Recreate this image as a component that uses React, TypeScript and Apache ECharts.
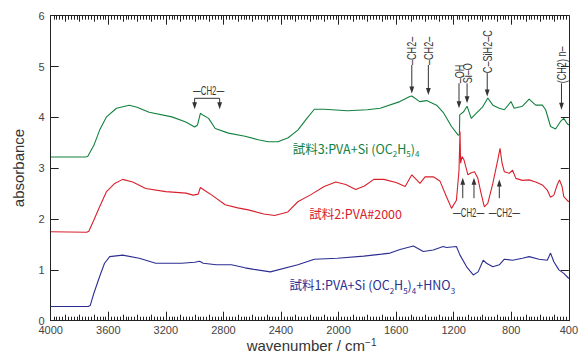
import React, { useEffect, useRef } from "react";
import * as echarts from "echarts";

// ---- axis settings ----
const WN_MIN = 400;
const WN_MAX = 4000;
const WN_STEP = 400;
const WN_MID_STEP = 100;
const WN_MINOR_STEP = 20;
const ABS_MIN = 0;
const ABS_MAX = 6;

// ---- spectra: [wavenumber (cm-1), absorbance] ----
const sample3: [number, number][] = [
  [4000, 3.22], [3760, 3.22], [3743, 3.23], [3700, 3.45], [3660, 3.75], [3612, 4.01],
  [3543, 4.18], [3454, 4.24], [3400, 4.2], [3316, 4.1], [3158, 4.01], [3061, 3.91],
  [3000, 3.81], [2980, 3.85], [2960, 4.08], [2940, 4.04], [2903, 3.98], [2857, 3.78],
  [2765, 3.69], [2650, 3.63], [2559, 3.56], [2490, 3.52], [2421, 3.52], [2350, 3.6],
  [2283, 3.75], [2220, 3.98], [2168, 4.16], [2100, 4.16], [1938, 4.13], [1800, 4.15],
  [1711, 4.18], [1574, 4.31], [1505, 4.41], [1491, 4.42], [1436, 4.31], [1388, 4.33],
  [1319, 4.24], [1273, 4.1], [1215, 3.82], [1169, 3.65], [1160, 3.66], [1158, 4.05],
  [1131, 4.11], [1107, 4.22], [1078, 3.98], [1044, 4.08], [1000, 4.2], [963, 4.38],
  [928, 4.24], [883, 4.18], [848, 4.15], [802, 4.31], [780, 4.18], [722, 4.22],
  [676, 4.36], [630, 4.24], [584, 4.24], [561, 4.15], [527, 3.82], [492, 3.77],
  [458, 3.92], [435, 3.98], [412, 3.88], [400, 3.85],
];

const sample2: [number, number][] = [
  [4000, 1.75], [3750, 1.74], [3735, 1.76], [3700, 1.98], [3660, 2.24], [3612, 2.54],
  [3555, 2.7], [3500, 2.78], [3430, 2.73], [3340, 2.6], [3200, 2.54], [3060, 2.51],
  [3010, 2.47], [2975, 2.49], [2960, 2.62], [2930, 2.56], [2880, 2.47], [2788, 2.28],
  [2700, 2.22], [2627, 2.18], [2520, 2.1], [2444, 2.07], [2352, 2.14], [2283, 2.34],
  [2192, 2.48], [2100, 2.64], [2019, 2.73], [1950, 2.68], [1881, 2.58], [1820, 2.65],
  [1755, 2.78], [1686, 2.78], [1600, 2.72], [1537, 2.64], [1491, 2.87], [1434, 2.7],
  [1399, 2.83], [1342, 2.83], [1296, 2.75], [1250, 2.44], [1215, 2.21], [1181, 2.37],
  [1163, 2.96], [1156, 3.72], [1152, 3.1], [1142, 3.23], [1128, 3.16], [1101, 2.87],
  [1078, 2.91], [1055, 2.93], [1032, 2.8], [1010, 2.51], [987, 2.24], [963, 2.31],
  [928, 2.7], [894, 3.16], [878, 3.39], [864, 3.1], [848, 2.93], [814, 2.9],
  [791, 2.96], [768, 2.8], [722, 2.76], [676, 2.77], [630, 2.73], [584, 2.67],
  [550, 2.57], [527, 2.43], [504, 2.47], [481, 2.67], [465, 2.77], [447, 2.64],
  [435, 2.44], [412, 2.37], [400, 2.34],
];

const sample1: [number, number][] = [
  [4000, 0.28], [3740, 0.28], [3725, 0.3], [3700, 0.54], [3660, 0.87], [3626, 1.13],
  [3590, 1.26], [3500, 1.29], [3385, 1.23], [3270, 1.13], [3090, 1.13], [3000, 1.15],
  [2965, 1.17], [2940, 1.13], [2850, 1.1], [2744, 1.1], [2650, 1.04], [2589, 1.01],
  [2474, 0.96], [2283, 1.1], [2168, 1.21], [2008, 1.23], [1825, 1.27], [1700, 1.31],
  [1642, 1.33], [1573, 1.4], [1480, 1.47], [1411, 1.36], [1342, 1.39], [1273, 1.46],
  [1250, 1.44], [1181, 1.46], [1156, 1.29], [1110, 1.06], [1064, 0.9], [1030, 0.96],
  [995, 1.19], [972, 1.13], [928, 1.06], [883, 1.1], [848, 1.21], [791, 1.19],
  [722, 1.23], [676, 1.26], [607, 1.21], [550, 1.19], [527, 1.33], [504, 1.16],
  [469, 1.0], [435, 0.93], [400, 0.83],
];

// ---- annotations (data coordinates) ----
const topMarks = [
  { text: "–CH2–", wn: 1491, from: 5.03, to: 4.47 },
  { text: "–CH2–", wn: 1376, from: 5.03, to: 4.44 },
  { text: "–OH", wn: 1163, from: 4.67, to: 4.18 },
  { text: "Si–O", wn: 1107, from: 4.67, to: 4.28 },
  { text: "C–SiH2–C", wn: 967, from: 4.87, to: 4.41 },
  { text: "(CH2) n–", wn: 451, from: 4.67, to: 4.15 },
];
const bracket = { text: "—CH2—", textWn: 2903, textAbs: 4.525, wn1: 3000, wn2: 2826, bar: 4.375, tip: 4.16 };
const upArrows = [
  { wn: 1137, from: 2.41, to: 2.81 },
  { wn: 1059, from: 2.41, to: 2.81 },
  { wn: 883, from: 2.41, to: 2.78 },
];
const upLabels = [
  { text: "—CH2—", wn: 1096, abs: 2.12 },
  { text: "—CH2—", wn: 848, abs: 2.12 },
];

const GREEN = "#13813f";
const RED = "#d8202c";
const BLUE = "#2c2e92";

const sampleLabels = [
  { wn: 2318, abs: 3.36, color: GREEN, parts: [["n", "試料3:PVA+Si (OC"], ["s", "2"], ["n", "H"], ["s", "5"], ["n", ")"], ["s", "4"]] },
  { wn: 2203, abs: 2.07, color: RED, parts: [["n", "試料2:PVA#2000"]] },
  { wn: 2340, abs: 0.68, color: BLUE, parts: [["n", "試料1:PVA+Si (OC"], ["s", "2"], ["n", "H"], ["s", "5"], ["n", ")"], ["s", "4"], ["n", "+HNO"], ["s", "3"]] },
];

const NUM_FONT = "'Liberation Sans Narrow', 'Liberation Sans', Arial, sans-serif";
const ANN_FONT = "'Liberation Sans Narrow', 'Liberation Sans', Arial, sans-serif";
const JP_FONT = "'Noto Sans CJK JP', 'Noto Sans', sans-serif";
const AXIS_COLOR = "#222";
const INK = "#333";

export default function App() {
  const ref = useRef<HTMLDivElement>(null);

  useEffect(() => {
    if (!ref.current) return;
    const chart = echarts.init(ref.current, null, { renderer: "svg" });

    const lineStyle = { color: AXIS_COLOR, width: 1 };
    const tickAxis = (position: string, labels: boolean) => ({
      type: "value",
      inverse: true,
      min: WN_MIN,
      max: WN_MAX,
      gridIndex: 0,
      position,
      interval: WN_STEP,
      splitLine: { show: false },
      axisLine: { show: true, onZero: false, lineStyle },
      axisTick: { show: true, inside: true, length: 9, lineStyle },
      axisLabel: labels
        ? { show: true, color: "#444", fontSize: 11, lineHeight: 8, fontFamily: NUM_FONT, margin: 5, formatter: (v: number) => String(v) }
        : { show: false },
    });

    chart.setOption({
      animation: false,
      backgroundColor: "#fff",
      grid: { left: 50.7, right: 7.7, top: 15.7, bottom: 35.3, containLabel: false },
      xAxis: [tickAxis("bottom", true), tickAxis("top", false)],
      yAxis: [
        {
          type: "value",
          position: "left",
          min: ABS_MIN,
          max: ABS_MAX,
          interval: 1,
          splitLine: { show: false },
          axisLine: { show: true, onZero: false, lineStyle },
          axisTick: { show: true, inside: true, length: 8, lineStyle },
          axisLabel: { color: "#444", fontSize: 11, lineHeight: 8, fontFamily: NUM_FONT, margin: 6 },
        },
        {
          type: "value",
          position: "right",
          min: ABS_MIN,
          max: ABS_MAX,
          interval: 1,
          splitLine: { show: false },
          axisLine: { show: true, onZero: false, lineStyle },
          axisTick: { show: true, inside: true, length: 8, lineStyle },
          axisLabel: { show: false },
        },
      ],
      series: [
        { name: "試料3", type: "line", data: sample3, symbol: "none", lineStyle: { color: GREEN, width: 1.1 }, xAxisIndex: 0, yAxisIndex: 0 },
        { name: "試料2", type: "line", data: sample2, symbol: "none", lineStyle: { color: RED, width: 1.1 }, xAxisIndex: 0, yAxisIndex: 0 },
        { name: "試料1", type: "line", data: sample1, symbol: "none", lineStyle: { color: BLUE, width: 1.1 }, xAxisIndex: 0, yAxisIndex: 0 },
      ],
    });

    const P = (wn: number, v: number) =>
      chart.convertToPixel({ xAxisIndex: 0, yAxisIndex: 0 }, [wn, v]) as number[];

    const g: any[] = [];
    const line = (x1: number, y1: number, x2: number, y2: number, z = 10, stroke = INK) =>
      g.push({ type: "line", silent: true, z, shape: { x1, y1, x2, y2 }, style: { stroke, lineWidth: 1 } });
    const head = (x: number, y: number, dir: 1 | -1) =>
      g.push({
        type: "polygon",
        silent: true,
        z: 10,
        shape: { points: [[x, y], [x - 2.4, y - dir * 7], [x + 2.4, y - dir * 7]] },
        style: { fill: INK },
      });

    // medium (100) and minor (20) ticks on the bottom and top edges, placed by the x scale
    {
      const [, yBottom] = P(WN_MIN, ABS_MIN);
      const [, yTop] = P(WN_MIN, ABS_MAX);
      for (let v = WN_MIN + WN_MINOR_STEP; v < WN_MAX; v += WN_MINOR_STEP) {
        if (v % WN_STEP === 0) continue;
        const len = v % WN_MID_STEP === 0 ? 6 : 4;
        const [x] = P(v, ABS_MIN);
        const xc = Math.round(x) + 0.5;
        line(xc, yBottom, xc, yBottom - len, 50, AXIS_COLOR);
        line(xc, yTop, xc, yTop + len, 50, AXIS_COLOR);
      }
    }

    topMarks.forEach((m) => {
      const [x, yFrom] = P(m.wn, m.from);
      const [, yTo] = P(m.wn, m.to);
      g.push({
        type: "text",
        silent: true,
        z: 10,
        x,
        y: yFrom,
        rotation: Math.PI / 2,
        scaleX: 0.7,
        style: { text: m.text, fill: INK, fontSize: 13, fontFamily: ANN_FONT, align: "left", verticalAlign: "middle" },
      });
      line(x, yFrom, x, yTo - 3);
      head(x, yTo, 1);
    });

    {
      const [tx, ty] = P(bracket.textWn, bracket.textAbs);
      g.push({
        type: "text",
        silent: true,
        z: 10,
        x: tx,
        y: ty,
        scaleX: 0.65,
        style: { text: bracket.text, fill: INK, fontSize: 12, fontFamily: ANN_FONT, align: "center", verticalAlign: "middle" },
      });
      const [x1, yb] = P(bracket.wn1, bracket.bar);
      const [x2] = P(bracket.wn2, bracket.bar);
      const [, yt] = P(bracket.wn1, bracket.tip);
      line(x1, yb, x2, yb);
      line(x1, yb, x1, yt - 3);
      line(x2, yb, x2, yt - 3);
      head(x1, yt, 1);
      head(x2, yt, 1);
    }

    upArrows.forEach((a) => {
      const [x, yFrom] = P(a.wn, a.from);
      const [, yTo] = P(a.wn, a.to);
      line(x, yFrom, x, yTo + 3);
      head(x, yTo, -1);
    });
    upLabels.forEach((l) => {
      const [x, y] = P(l.wn, l.abs);
      g.push({
        type: "text",
        silent: true,
        z: 10,
        x,
        y,
        scaleX: 0.65,
        style: { text: l.text, fill: INK, fontSize: 12, fontFamily: ANN_FONT, align: "center", verticalAlign: "middle" },
      });
    });

    sampleLabels.forEach((s) => {
      const [x, y] = P(s.wn, s.abs);
      g.push({
        type: "text",
        silent: true,
        z: 10,
        x,
        y: y - 8,
        style: {
          text: s.parts.map(([k, t]) => `{${k}|${t}}`).join(""),
          fill: s.color,
          align: "left",
          verticalAlign: "top",
          rich: {
            n: { fontSize: 12.5, fontFamily: JP_FONT, fill: s.color, lineHeight: 16, verticalAlign: "top" },
            s: { fontSize: 8, fontFamily: JP_FONT, fill: s.color, lineHeight: 7, verticalAlign: "bottom" },
          },
        },
      });
    });

    g.push({
      type: "text",
      silent: true,
      x: 18,
      y: 168,
      rotation: Math.PI / 2,
      style: { text: "absorbance", fill: INK, fontSize: 15, fontFamily: "'Liberation Sans', Arial, sans-serif", align: "center", verticalAlign: "middle" },
    });
    g.push({
      type: "text",
      silent: true,
      x: 246.7,
      y: 337.8,
      style: {
        text: "{n|wavenumber / cm}{p|−1}",
        fill: INK,
        align: "left",
        verticalAlign: "top",
        rich: {
          n: { fontSize: 15, fontFamily: "'Liberation Sans', Arial, sans-serif", fill: INK, lineHeight: 18, verticalAlign: "top" },
          p: { fontSize: 10, fontFamily: "'Liberation Sans', Arial, sans-serif", fill: INK, lineHeight: 8, verticalAlign: "top" },
        },
      },
    });

    chart.setOption({ graphic: g });

    return () => chart.dispose();
  }, []);

  return (
    <div
      ref={ref}
      style={{ position: "fixed", left: 0, top: 0, width: 581, height: 356, background: "#fff" }}
    />
  );
}
